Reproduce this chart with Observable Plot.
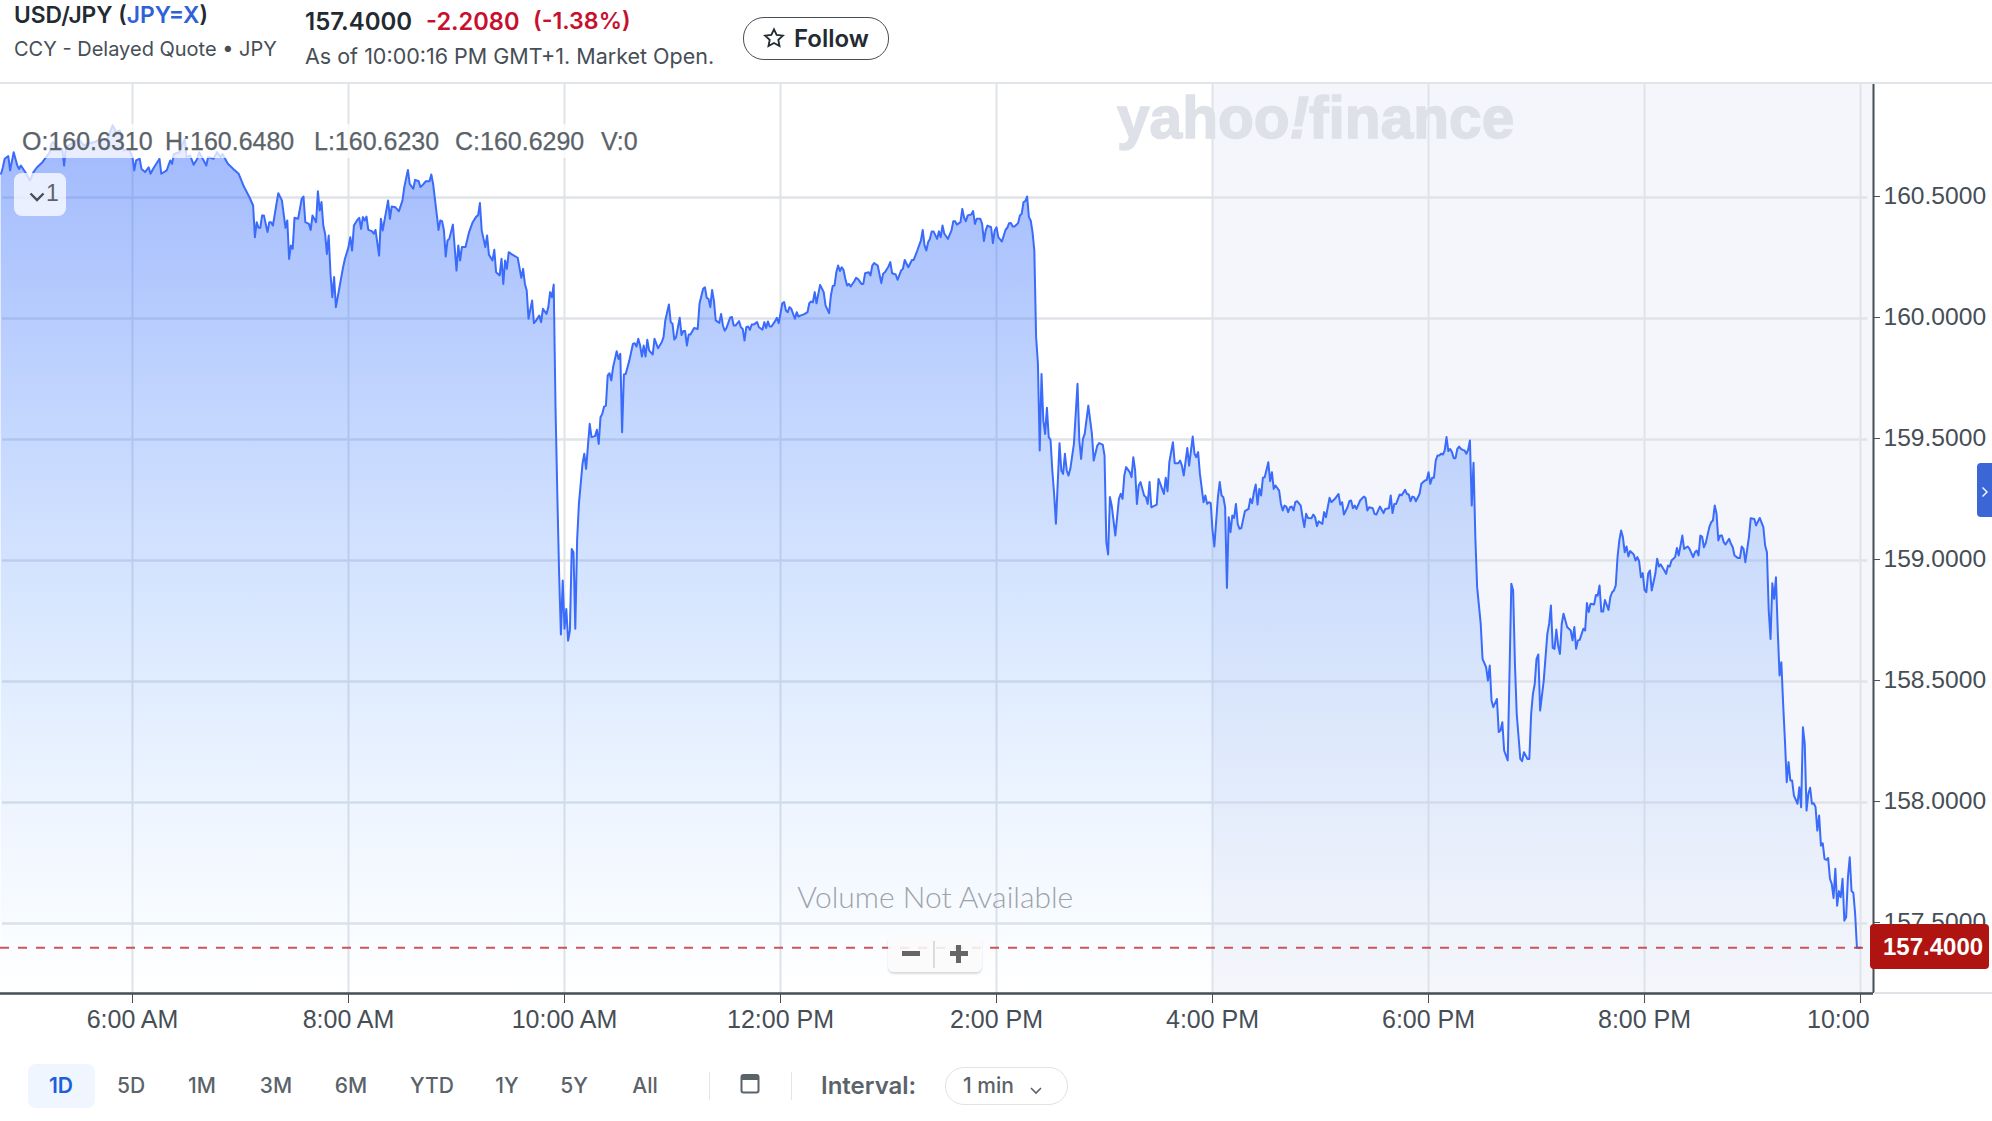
<!DOCTYPE html>
<html>
<head>
<meta charset="utf-8">
<script src="https://cdn.jsdelivr.net/npm/d3@7"></script>
<script src="https://cdn.jsdelivr.net/npm/@observablehq/plot@0.6"></script>
<style>
html,body{margin:0;padding:0;background:#fff;}
#page{position:relative;width:1992px;height:1121px;overflow:hidden;font-family:"Liberation Sans",sans-serif;color:#232a31;}
#head{height:83px;position:relative;}
#page svg.plot{display:block;}
.abs{position:absolute;white-space:pre;}
#chart g[aria-label*="tick label"]{-webkit-text-stroke:.35px #464e56;}
</style>
</head>
<body>
<div id="page">
  <div id="head"></div>
  <div id="chart"></div>
</div>
<script>
// [minutes after midnight, USD/JPY price]
const earlyMorning = [[287,160.598],[288,160.625],[289,160.66],[291,160.671],[292,160.612],[294,160.687],[296,160.632],[297,160.618],[298,160.632],[301,160.598],[303,160.57],[305,160.605],[307,160.625],[310,160.646],[312,160.667],[314,160.687],[315,160.722],[316,160.729],[318,160.708],[321,160.701],[322,160.632],[323,160.708],[326,160.722],[330,160.742],[333,160.715],[335,160.722],[339,160.729],[342,160.742],[346,160.742],[349,160.798],[351,160.77],[353,160.777],[355,160.694],[358,160.701],[360,160.667],[361,160.612],[362,160.653],[364,160.66],[365,160.618],[367,160.605],[369,160.625],[370,160.598],[372,160.625],[375,160.66],[376,160.598],[379,160.612],[381,160.653],[382,160.639],[383,160.68],[386,160.687],[389,160.742],[390,160.667],[392,160.674],[394,160.635],[396,160.66],[397,160.687],[399,160.66],[401,160.632],[402,160.667],[405,160.66],[407,160.687],[409,160.667],[410,160.68],[413,160.639],[416,160.618],[419,160.598],[422,160.543],[425,160.501],[427,160.467]];
const morning = [[428,160.336],[429,160.398],[430,160.375],[431,160.375],[432,160.426],[433,160.426],[435,160.357],[436,160.398],[437,160.398],[438,160.384],[440,160.474],[441,160.518],[443,160.488],[445,160.375],[446,160.405],[447,160.246],[448,160.302],[449,160.288],[450,160.416],[452,160.412],[454,160.494],[455,160.504],[456,160.398],[458,160.391],[459,160.366],[460,160.426],[462,160.398],[463,160.526],[464,160.446],[465,160.481],[466,160.384],[467,160.35],[468,160.267],[469,160.343],[470,160.184],[471,160.088],[472,160.171],[473,160.047],[475,160.129],[477,160.212],[478,160.246],[480,160.295],[481,160.336],[482,160.281],[483,160.384],[485,160.408],[486,160.416],[487,160.37],[488,160.419],[489,160.405],[490,160.421],[491,160.366],[493,160.361],[494,160.35],[495,160.366],[497,160.26],[498,160.412],[499,160.364],[502,160.488],[503,160.412],[504,160.463],[506,160.46],[508,160.443],[510,160.488],[511,160.543],[513,160.614],[514,160.556],[516,160.536],[517,160.573],[519,160.567],[520,160.543],[521,160.55],[523,160.567],[525,160.567],[526,160.595],[527,160.556],[529,160.432],[530,160.366],[531,160.405],[532,160.402],[533,160.364],[534,160.256],[535,160.322],[536,160.329],[538,160.388],[540,160.198],[541,160.302],[542,160.24],[543,160.295],[545,160.295],[547,160.357],[549,160.398],[551,160.421],[552,160.426],[553,160.477],[554,160.364],[556,160.295],[557,160.343],[558,160.264],[560,160.24],[561,160.284],[562,160.191],[564,160.178],[565,160.247],[566,160.143],[567,160.24],[568,160.205],[569,160.274],[571,160.264],[574,160.251],[576,160.168],[577,160.205],[578,160.143],[579,160.116],[580,159.999],[582,160.074],[583,159.981],[584,159.989],[586,160.012],[587,159.985],[588,160.04],[590,160.019],[591,160.047],[592,160.109],[593,160.088],[594,160.14],[595,159.634],[596,159.275],[597,158.945],[598,158.694],[599,158.917],[600,158.718],[601,158.8],[602,158.669],[603,158.711],[604,159.048],[605,159.034],[606,158.718],[607,159.083]];
const midday = [[608,159.234],[610,159.4],[611,159.441],[612,159.379],[614,159.565],[615,159.51],[617,159.514],[618,159.54],[619,159.482],[620,159.592],[621,159.606],[622,159.636],[623,159.64],[624,159.765],[625,159.774],[626,159.744],[627,159.799],[629,159.865],[630,159.833],[631,159.854],[632,159.53],[633,159.769],[634,159.771],[636,159.826],[638,159.895],[639,159.898],[640,159.884],[641,159.916],[642,159.888],[643,159.843],[644,159.888],[645,159.843],[646,159.912],[647,159.868],[649,159.851],[650,159.916],[652,159.877],[654,159.902],[655,159.923],[656,159.992],[658,160.058],[659,159.985],[660,159.978],[661,159.913],[662,159.923],[664,160.003],[665,159.932],[666,159.948],[667,159.948],[668,159.888],[669,159.934],[670,159.934],[672,159.961],[674,159.957],[675,160.061],[677,160.123],[678,160.129],[679,160.085],[680,160.081],[681,160.047],[682,160.118],[683,160.074],[684,159.992],[686,159.982],[687,160.019],[688,159.971],[689,159.95],[690,159.961],[692,160.003],[693,160.006],[694,159.971],[695,159.971],[697,159.989],[698,159.964],[699,159.957],[700,159.909],[701,159.964],[702,159.967],[703,159.953],[704,159.975],[705,159.975],[707,159.985],[708,159.964],[710,159.954],[711,159.985],[712,159.961],[713,159.988],[714,159.967],[715,159.967],[717,159.989],[718,160.003],[719,159.981],[721,160.063],[722,160.068],[723,160.033],[724,160.026],[725,160.047],[726,160.04],[728,159.999],[729,160.026],[730,160.008],[731,160.012],[733,160.017],[735,160.026],[736,160.063],[737,160.07],[738,160.067],[739,160.109],[740,160.063],[742,160.139],[744,160.109],[745,160.054],[747,160.022],[748,160.095],[749,160.134],[750,160.136],[751,160.191],[752,160.219],[753,160.196],[754,160.212],[755,160.201],[756,160.164],[757,160.136],[758,160.143],[759,160.132],[761,160.154],[762,160.168],[763,160.164],[765,160.143],[766,160.143],[767,160.187],[769,160.191],[770,160.178],[771,160.219],[772,160.229],[774,160.219],[776,160.146],[777,160.185],[778,160.191],[780,160.215],[781,160.233],[782,160.187],[784,160.182],[785,160.16],[787,160.198],[788,160.205],[789,160.242],[791,160.212],[793,160.242],[794,160.242],[796,160.281],[797,160.302],[798,160.322],[799,160.366],[800,160.302],[801,160.281],[802,160.315],[803,160.329],[804,160.36],[805,160.36],[807,160.329],[808,160.36],[809,160.336],[810,160.384],[811,160.35],[813,160.329],[815,160.364],[816,160.402],[817,160.402],[818,160.388],[820,160.398],[821,160.453],[822,160.416],[823,160.402],[824,160.426],[826,160.43],[827,160.444],[828,160.391],[829,160.412],[831,160.412],[832,160.391],[833,160.32],[834,160.364],[835,160.384],[837,160.377],[838,160.311],[839,160.364],[840,160.377],[841,160.336],[843,160.318],[845,160.366],[846,160.375],[847,160.394],[848,160.395],[849,160.38],[850,160.38],[852,160.394],[853,160.426],[854,160.433],[855,160.481],[856,160.485],[857,160.504]];
const afternoon = [[858,160.419],[859,160.405],[860,160.357],[861,160.281],[862,159.923],[863,159.813],[864,159.455],[865,159.771],[866,159.579],[867,159.523],[868,159.631],[869,159.51],[870,159.499],[871,159.372],[872,159.276],[873,159.152],[875,159.485],[876,159.372],[877,159.358],[878,159.441],[879,159.372],[880,159.351],[881,159.379],[883,159.482],[885,159.73],[886,159.496],[887,159.42],[888,159.503],[889,159.523],[891,159.64],[893,159.523],[894,159.413],[896,159.475],[897,159.485],[899,159.479],[900,159.434],[901,159.076],[902,159.025],[903,159.262],[904,159.227],[906,159.103],[908,159.255],[909,159.276],[910,159.255],[911,159.351],[912,159.386],[914,159.365],[915,159.344],[916,159.427],[917,159.372],[918,159.234],[919,159.31],[920,159.324],[922,159.269],[923,159.262],[924,159.234],[925,159.324],[926,159.22],[929,159.231],[930,159.337],[932,159.296],[933,159.275],[934,159.342],[935,159.286],[936,159.406],[938,159.489],[939,159.402],[941,159.402],[942,159.413],[943,159.392],[944,159.351],[946,159.465],[947,159.392],[949,159.512],[950,159.441],[951,159.427],[952,159.448],[953,159.358],[955,159.241],[956,159.269],[957,159.234],[958,159.241],[959,159.237],[960,159.124],[961,159.058],[963,159.262],[964,159.324],[965,159.269],[966,159.262],[967,159.22],[968,158.887],[969,159.179],[970,159.117],[971,159.186],[972,159.176],[973,159.234],[974,159.151],[975,159.131],[976,159.134],[978,159.204],[980,159.213],[981,159.255],[982,159.237],[983,159.282],[984,159.314],[985,159.231],[986,159.296],[987,159.269],[988,159.342],[989,159.344],[991,159.406],[992,159.328],[993,159.365],[994,159.296],[995,159.31],[997,159.289],[998,159.234],[999,159.207],[1000,159.227],[1001,159.223],[1002,159.2],[1003,159.22],[1004,159.223],[1005,159.207],[1006,159.241],[1007,159.245],[1009,159.227],[1010,159.179],[1011,159.138],[1012,159.193],[1013,159.176],[1015,159.175],[1016,159.19],[1017,159.179],[1018,159.142],[1019,159.162],[1021,159.151],[1022,159.2],[1023,159.179],[1025,159.259],[1026,159.241],[1028,159.255],[1030,159.275],[1031,159.231],[1032,159.241],[1033,159.19],[1035,159.22],[1036,159.245],[1037,159.248],[1038,159.216],[1039,159.227],[1040,159.213],[1042,159.248],[1044,159.264],[1045,159.259],[1046,159.207],[1047,159.22],[1049,159.216],[1050,159.193],[1051,159.19],[1053,159.223],[1055,159.196],[1056,159.213],[1058,159.216],[1059,159.269],[1060,159.196],[1061,159.234],[1062,159.234],[1064,159.273],[1065,159.269],[1067,159.292],[1068,159.275],[1069,159.273],[1070,159.245],[1071,159.264],[1072,159.262],[1073,159.245],[1075,159.275],[1076,159.317],[1078,159.331],[1079,159.333],[1080,159.365],[1081,159.317],[1082,159.342],[1083,159.342],[1084,159.413],[1085,159.434],[1086,159.434],[1087,159.441],[1088,159.438],[1089,159.455],[1090,159.51],[1091,159.452],[1092,159.461],[1093,159.448],[1094,159.423],[1095,159.423],[1096,159.461],[1097,159.471],[1098,159.461],[1099,159.457],[1100,159.455],[1101,159.441],[1102,159.457],[1103,159.496],[1104,159.227],[1105,159.404],[1106,159.096]];
const evening = [[1107,158.89],[1109,158.738],[1110,158.594],[1112,158.559],[1113,158.504],[1114,158.566],[1115,158.422],[1116,158.394],[1118,158.428],[1119,158.291],[1120,158.298],[1121,158.332],[1122,158.215],[1124,158.174],[1126,158.904],[1127,158.876],[1128,158.573],[1129,158.366],[1131,158.18],[1132,158.171],[1133,158.208],[1135,158.18],[1136,158.18],[1137,158.366],[1138,158.449],[1139,158.49],[1140,158.594],[1141,158.612],[1142,158.38],[1144,158.504],[1146,158.697],[1147,158.738],[1148,158.814],[1149,158.639],[1150,158.635],[1151,158.715],[1152,158.649],[1153,158.614],[1154,158.738],[1155,158.78],[1157,158.725],[1159,158.711],[1160,158.67],[1161,158.725],[1162,158.635],[1163,158.67],[1164,158.672],[1166,158.718],[1167,158.711],[1168,158.824],[1169,158.787],[1170,158.821],[1172,158.818],[1173,158.858],[1174,158.855],[1175,158.897],[1176,158.789],[1177,158.789],[1178,158.837],[1180,158.796],[1181,158.849],[1182,158.869],[1183,158.876],[1184,158.897],[1185,159.014],[1186,159.083],[1187,159.124],[1188,159.096],[1189,159.034],[1190,159.058],[1191,159.017],[1192,159.039],[1194,159.025],[1195,159],[1196,159.014],[1197,158.997],[1198,158.931],[1199,158.948],[1200,158.879],[1201,158.869],[1202,158.945],[1203,158.959],[1204,158.876],[1206,158.945],[1207,159.007],[1208,158.975],[1209,158.984],[1211,158.959],[1212,158.945],[1213,158.979],[1214,158.975],[1215,159],[1217,159.014],[1218,159.052],[1219,159.021],[1221,159.103],[1222,159.048],[1224,159.058],[1225,159.048],[1227,159.014],[1228,159.034],[1229,159.041],[1230,159.021],[1231,159.103],[1232,159.099],[1233,159.055],[1234,159.072],[1236,159.138],[1237,159.158],[1238,159.165],[1239,159.227],[1240,159.193],[1241,159.083],[1242,159.103],[1243,159.103],[1244,159.076],[1245,159.066],[1247,159.09],[1248,159.069],[1249,159.055],[1250,159.021],[1252,159.01],[1253,159.01],[1254,159.058],[1255,159.048],[1256,158.993],[1258,159.097],[1259,159.175],[1261,159.172],[1262,159.145],[1264,159.176],[1266,159.138],[1267,159.062],[1268,159.034],[1269,158.793],[1270,158.676],[1271,158.906],[1272,158.842],[1273,158.931],[1274,158.711],[1275,158.525],[1276,158.58],[1277,158.408],[1278,158.256],[1279,158.084],[1280,158.167],[1281,158.091],[1282,158.091],[1283,158.029],[1285,157.995],[1286,158.063],[1287,157.981],[1288,158.311],[1289,158.242],[1290,157.967],[1291,158.036],[1292,158.061],[1293,157.995],[1294,157.997],[1295,157.981],[1296,157.884],[1297,157.946],[1298,157.822],[1299,157.832],[1300,157.767],[1301,157.763],[1302,157.771],[1303,157.685],[1304,157.664],[1305,157.606],[1306,157.726],[1307,157.574],[1308,157.634],[1309,157.609],[1310,157.685],[1311,157.512],[1312,157.526],[1313,157.691],[1314,157.774],[1315,157.634],[1316,157.627],[1317,157.54],[1318,157.4],[1320,157.4]];

const priceTicks = [157.5,158,158.5,159,159.5,160,160.5];
const timeTicks = [360,480,600,720,840,960,1080,1200];
const timeLabels = ["6:00 AM","8:00 AM","10:00 AM","12:00 PM","2:00 PM","4:00 PM","6:00 PM","8:00 PM"];
const closeTick = [1320];
const closeLabel = "10:00";
const lastPrice = 157.4;
const ranges = ["1D","5D","1M","3M","6M","YTD","1Y","5Y","All"];
const ohlcLabels = ["O:160.6310","H:160.6480","L:160.6230","C:160.6290","V:0"];

const series = [...earlyMorning,...morning,...midday,...afternoon,...evening].map(([t,p])=>({t,p}));
const xDomain = [286.67,1327.2];
const yDomain = [157.211,160.971];
const gridColor = "#e0e3e8";
const axisColor = "#464e56";

const chart = Plot.plot({
  width:1992,height:967,
  marginTop:0,marginRight:119,marginBottom:57,marginLeft:0,
  style:{fontFamily:'"Liberation Sans",sans-serif',fontSize:"25px",background:"transparent",color:axisColor},
  x:{type:"linear",domain:xDomain},
  y:{domain:yDomain},
  marks:[
    ()=>{
      const d=d3.create("svg:defs");
      const g=d.append("linearGradient").attr("id","areaFade").attr("x1",0).attr("x2",0).attr("y1",0).attr("y2",1);
      g.append("stop").attr("offset","0%").attr("stop-color","#3c6efa").attr("stop-opacity",0.49);
      g.append("stop").attr("offset","100%").attr("stop-color","#5ba8ff").attr("stop-opacity",0);
      return d.node();
    },
    Plot.rect([{}],{x1:960,x2:xDomain[1],y1:yDomain[0],y2:yDomain[1],fill:"#f5f6fb"}),
    Plot.ruleY(priceTicks,{x1:287.8,x2:1324,stroke:gridColor,strokeWidth:2.4}),
    Plot.ruleX([...timeTicks,...closeTick],{y1:yDomain[0],y2:yDomain[1],stroke:gridColor,strokeWidth:2}),
    Plot.areaY(series,{x:"t",y1:()=>yDomain[0],y2:"p",fill:"url(#areaFade)"}),
    Plot.line(series,{x:"t",y:"p",stroke:"#3a6bfa",strokeWidth:2,strokeLinejoin:"round"}),
    Plot.ruleY([lastPrice],{x1:xDomain[0],x2:1325.5,stroke:"#c2383c",strokeOpacity:0.85,strokeWidth:2,strokeDasharray:"9,9"}),
    Plot.ruleY([yDomain[0]],{stroke:axisColor,strokeWidth:2.4}),
    Plot.ruleX([xDomain[1]],{y1:yDomain[0],y2:yDomain[1],stroke:axisColor,strokeWidth:2}),
    Plot.axisY({anchor:"right",ticks:priceTicks,tickFormat:d=>d.toFixed(4),tickSize:6,tickPadding:4,fontSize:24.6,label:null,color:axisColor,stroke:axisColor,dy:-1}),
    Plot.axisX({ticks:timeTicks,tickFormat:d=>timeLabels[timeTicks.indexOf(d)],tickSize:10,tickPadding:7,fontSize:25,label:null,color:axisColor}),
    Plot.axisX({ticks:closeTick,tickFormat:()=>"",tickSize:10,label:null,color:axisColor}),
    Plot.axisX({ticks:closeTick,tickFormat:()=>closeLabel,tickSize:0,tickPadding:17,fontSize:25,label:null,color:axisColor,textAnchor:"end",dx:9}),
    Plot.text(["Volume Not Available"],{x:()=>806,y:()=>157.605,fontFamily:"Lato",fontWeight:300,fontSize:30,fill:"#9ca3aa",textAnchor:"middle"})
  ]
});
document.getElementById("chart").appendChild(chart);

// page furniture
const page=document.getElementById("page");
function txt(s,x,y,css,html){
  const e=document.createElement("div");e.className="abs";
  e.style.cssText+=`left:${x}px;top:${y}px;`+(css||"");
  if(html)e.innerHTML=s;else e.textContent=s;
  page.appendChild(e);return e;
}
const box=(x,y,w,h,css)=>txt("",x,y,`width:${w}px;height:${h}px;`+css);

// rule lines
box(0,82,1992,2,"background:#e1e4e9;");
box(1874,992,118,2,"background:#dfe2e7;");

// header
const hf='font-family:Inter,sans-serif;';
txt('USD/JPY (<span style="color:#2f62d8">JPY=X</span>)',14,1,hf+'font-size:22.8px;font-weight:600;color:#232a31;',true);
txt('CCY - Delayed Quote • JPY',14,37,hf+'font-size:20px;color:#464e56;');
txt('157.4000',305,7,hf+'font-size:24px;font-weight:600;color:#232a31;');
txt('-2.2080',426,7,hf+'font-size:23.6px;font-weight:600;color:#c8102e;');
txt('(-1.38%)',533,7,hf+'font-size:23.2px;font-weight:600;color:#c8102e;');
txt('As of 10:00:16 PM GMT+1. Market Open.',305,43,hf+'font-size:21.5px;color:#464e56;');
box(743,17,144,41,"border:1.5px solid #464e56;border-radius:21px;background:#fff;");
txt('<svg width="22" height="22" viewBox="0 0 24 24" fill="none" stroke="#232a31" stroke-width="2"><path d="M12 2.5l2.9 6.2 6.8.8-5 4.6 1.3 6.7-6-3.3-6 3.3 1.3-6.7-5-4.6 6.8-.8z"/></svg>',763,27,'',true);
txt('Follow',794,24,hf+'font-size:24px;font-weight:600;color:#232a31;');

// watermark
txt('yahoo<span style="font-style:italic">!</span>finance',1117,84,'font-family:"Liberation Sans";font-weight:700;font-size:58.6px;color:#dee1e7;-webkit-text-stroke:1.5px #dee1e7;',true);

// OHLC band
box(18,124,628,34,"background:rgba(255,255,255,.75);");
[22,165,314,455,601].forEach((x,i)=>txt(ohlcLabels[i],x,127,"font-size:25px;color:#5b636a;-webkit-text-stroke:.25px #5b636a;"));

// chevron button
box(14,173,52,43,"background:rgba(255,255,255,.75);border-radius:8px;");
txt('<svg width="16" height="10" viewBox="0 0 16 10" fill="none" stroke="#464e56" stroke-width="2.4"><path d="M1.5 1.5L8 8l6.5-6.5"/></svg>',29,188,'',true);
txt('1',46,180,"font-size:23px;color:#5b636a;");

// zoom control
box(888,938,94,34,"background:rgba(250,250,250,.88);border-radius:0 0 6px 6px;box-shadow:0 2px 2px rgba(0,0,0,.14);");
box(933,941,1.5,27,"background:#dcdcdc;");
box(902,951,18,5,"background:#666;");
box(949.5,951,18,5,"background:#666;");
box(956,945,5,18,"background:#666;");

// last price tag
box(1870,924,119,45,"background:#b01410;border-radius:4px;");
txt('157.4000',1883,933,"font-size:24px;font-weight:700;color:#fff;font-family:'Liberation Sans';");

// side tab
box(1977,463,15,54,"background:#3b66d5;border-radius:4px 0 0 4px;");
txt('<svg width="8" height="12" viewBox="0 0 8 12" fill="none" stroke="#fff" stroke-width="1.4"><path d="M1.5 1.5L6 6l-4.5 4.5"/></svg>',1981,484,'',true);

// footer
const fc=[61,131,202,276,351,432,507,574,645];
box(28,1064,67,44,"background:#eff6ff;border-radius:8px;");
ranges.forEach((r,i)=>{
  txt(r,fc[i]-40,1073,`width:80px;text-align:center;${hf}font-size:21px;font-weight:${i==0?600:500};color:${i==0?'#1b5fd9':'#5b636a'};`);
});
box(709,1072,1,28,"background:#e3e5e8;");
box(791,1072,1,28,"background:#e3e5e8;");
txt('<svg width="20" height="22" viewBox="0 0 20 22" fill="none"><rect x="1.5" y="3" width="17" height="17.5" rx="2" stroke="#5b636a" stroke-width="2"/><rect x="1.5" y="3" width="17" height="5" fill="#5b636a"/></svg>',740,1072,'',true);
txt('Interval:',821,1071,hf+'font-size:24px;font-weight:600;color:#5b636a;');
box(945,1067,121,36,"border:1.5px solid #dfe2e7;border-radius:20px;background:#fff;");
txt('1 min',963,1073,hf+'font-size:21px;font-weight:500;color:#5b636a;');
txt('<svg width="12" height="8" viewBox="0 0 12 8" fill="none" stroke="#5b636a" stroke-width="1.6"><path d="M1 1l5 5 5-5"/></svg>',1030,1081,'',true);
</script>
</body>
</html>
